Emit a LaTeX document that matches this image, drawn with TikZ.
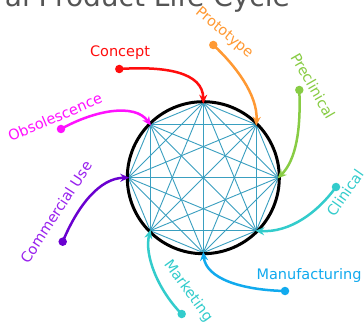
\documentclass[tikz,border=0pt]{standalone}
\usepackage{fontspec}
\setmainfont{DejaVu Sans}
\usetikzlibrary{arrows.meta}
\definecolor{cConcept}{HTML}{FF0D0D}
\definecolor{cProto}{HTML}{FF9933}
\definecolor{cPre}{HTML}{88CC44}
\definecolor{cClin}{HTML}{33CCCC}
\definecolor{cManu}{HTML}{11AAEE}
\definecolor{cMark}{HTML}{33CCCC}
\definecolor{cComm}{HTML}{6A00D0}
\definecolor{cCommT}{HTML}{9922EE}
\definecolor{cObs}{HTML}{FF11FF}
\definecolor{cDiag}{HTML}{3A9FC0}
\definecolor{cTitle}{HTML}{555555}
\tikzset{
  lbl/.style={font=\fontsize{14.5}{16}\selectfont, inner sep=0pt},
  dot/.style={circle, fill, inner sep=0pt, minimum size=8.5pt},
  flow/.style={line width=2.5pt, -{Stealth[length=9pt,width=8pt]}, shorten >=-1pt},
  diag/.style={cDiag, line width=0.9pt},
}
\begin{document}
\begin{tikzpicture}[x=1pt,y=-1pt]
\useasboundingbox (0,0) rectangle (364,323);
\clip (0,0) rectangle (364,323);
\fill[white] (0,0) rectangle (364,323);
% title (cut off at the top)
\node[anchor=base east, inner sep=0pt, text=cTitle, font=\fontsize{28}{30}\selectfont] (title) at (290,7) {al Product Life Cycle};
% octagon vertices
\coordinate (c) at (203.3,177.7);
\coordinate (v0) at (278.3,177.7);
\coordinate (v1) at (256.3,124.7);
\coordinate (v2) at (203.3,102.7);
\coordinate (v3) at (150.3,124.7);
\coordinate (v4) at (128.3,177.7);
\coordinate (v5) at (150.3,230.7);
\coordinate (v6) at (203.3,252.7);
\coordinate (v7) at (256.3,230.7);
\foreach \i in {0,...,6} {
  \pgfmathtruncatemacro\s{\i+1}
  \foreach \j in {\s,...,7} { \draw[diag] (v\i) -- (v\j); }
}
\draw[black, line width=3pt] (c) circle[radius=76];
% dots
\node[dot, cConcept] (dConcept) at (119.3,69) {};
\node[dot, cProto] (dProto) at (213.3,45) {};
\node[dot, cPre] (dPre) at (299.3,90) {};
\node[dot, cClin] (dClin) at (336,187) {};
\node[dot, cManu] (dManu) at (285,291) {};
\node[dot, cMark] (dMark) at (181.7,314) {};
\node[dot, cComm] (dComm) at (62.7,241.7) {};
\node[dot, cObs] (dObs) at (61,129) {};
% connectors
\draw[flow, cConcept] (dConcept.center) .. controls (165,66) and (203,72) .. (v2);
\draw[flow, cProto] (dProto.center) .. controls (235,65) and (258,95) .. (v1);
\draw[flow, cPre] (dPre.center) .. controls (301,130) and (296,160) .. (v0);
\draw[flow, cClin] (dClin.center) .. controls (318,212) and (290,233) .. (v7);
\draw[flow, cManu] (dManu.center) .. controls (240,290) and (206,278) .. (v6);
\draw[flow, cMark] (dMark.center) .. controls (158,290) and (144,255) .. (v5);
\draw[flow, cComm] (dComm.center) .. controls (78,205) and (100,178) .. (v4);
\draw[flow, cObs] (dObs.center) .. controls (95,110) and (135,103) .. (v3);
% labels
\node[lbl, text=cConcept] (lConcept) at (120,53) {Concept};
\node[lbl, text=cProto, rotate=-40] (lProto) at (224,33) {Prototype};
\node[lbl, text=cPre, rotate=-60] (lPre) at (313,86) {Preclinical};
\node[lbl, text=cClin, rotate=55] (lClin) at (345,193) {Clinical};
\node[lbl, text=cManu] (lManu) at (309,275) {Manufacturing};
\node[lbl, text=cMark, rotate=-54] (lMark) at (188,291) {Marketing};
\node[lbl, text=cCommT, rotate=57] (lComm) at (56,212) {Commercial Use};
\node[lbl, text=cObs, rotate=23] (lObs) at (55,117) {Obsolescence};
\end{tikzpicture}
\end{document}
